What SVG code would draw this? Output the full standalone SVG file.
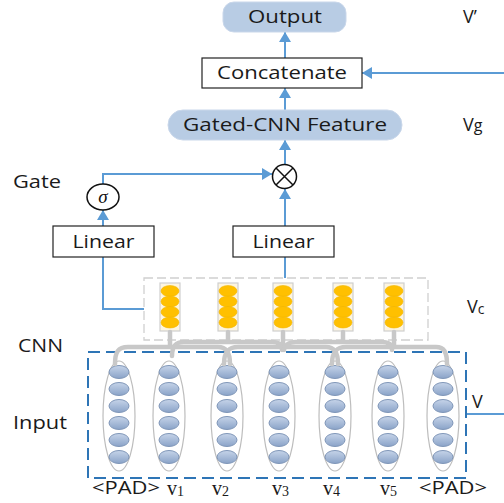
<svg xmlns="http://www.w3.org/2000/svg" width="504" height="503" viewBox="0 0 504 503">
<defs>
<style>
.lbl{font-family:"Open Sans","Liberation Sans",sans-serif;font-size:18px;fill:#1a1a1a}
.ser{font-family:"Liberation Serif","DejaVu Serif",serif;font-size:20px;fill:#1a1a1a}
.pill{fill:#b8cce4;stroke:#c9d7ea;stroke-width:1}
.box{fill:#ffffff;stroke:#222;stroke-width:1.2}
.arr{fill:none;stroke:#5b9bd5;stroke-width:2}
.cnn{fill:none;stroke:#c8c8c8;stroke-width:4.5;stroke-linecap:round;stroke-linejoin:round}
.col{fill:#fdf5e0;stroke:#cfcfcf;stroke-width:1.2}
.org{fill:#ffc000;stroke:#f2b600;stroke-width:0.6}
.word{fill:#ffffff;stroke:#bdbdbd;stroke-width:1.2}
.dot{fill:url(#bg);stroke:#7f96b8;stroke-width:1}
</style>
<linearGradient id="bg" x1="0" y1="0" x2="0" y2="1">
<stop offset="0" stop-color="#c6d4e9"/>
<stop offset="1" stop-color="#8aa3c8"/>
</linearGradient>
<marker id="ah" viewBox="0 0 10 12" refX="10" refY="6" markerWidth="10" markerHeight="12" markerUnits="userSpaceOnUse" orient="auto">
<path d="M0,0 L10,6 L0,12 z" fill="#5b9bd5"/>
</marker>
</defs>
<rect width="504" height="503" fill="#ffffff"/>

<g id="connectors">
<path class="arr" d="M285,58 V32" marker-end="url(#ah)"/>
<path class="arr" d="M504,73 H362" marker-end="url(#ah)"/>
<path class="arr" d="M285,110 V88" marker-end="url(#ah)"/>
<path class="arr" d="M285,164 V140" marker-end="url(#ah)"/>
<path class="arr" d="M285,226 V189" marker-end="url(#ah)"/>
<path class="arr" d="M103,184 V174 H272" marker-end="url(#ah)"/>
<path class="arr" d="M103,226 V210" marker-end="url(#ah)"/>
<path class="arr" d="M144,309 H103 V257"/>
<path class="arr" d="M285,278 V257"/>
<path class="arr" d="M466,414 H504"/>
</g>

<g id="output"><rect class="pill" x="223" y="2" width="123" height="30" rx="11"/><text class="lbl" x="285" y="23" text-anchor="middle" textLength="74" lengthAdjust="spacingAndGlyphs">Output</text></g>
<g id="concatenate"><rect class="box" x="202" y="58" width="160" height="30"/><text class="lbl" x="282" y="79" text-anchor="middle" textLength="130" lengthAdjust="spacingAndGlyphs">Concatenate</text></g>
<g id="gated"><rect class="pill" x="168" y="110" width="234" height="30" rx="15"/><text class="lbl" x="285" y="131" text-anchor="middle" textLength="204" lengthAdjust="spacingAndGlyphs">Gated-CNN Feature</text></g>
<g id="mult"><circle cx="284.5" cy="176.5" r="12" fill="#fff" stroke="#111" stroke-width="1.5"/><path d="M276,168 L293,185 M293,168 L276,185" stroke="#111" stroke-width="1.5"/></g>
<g id="sigma"><ellipse cx="103" cy="197" rx="16" ry="13" fill="#fff" stroke="#111" stroke-width="1.5"/><text x="103" y="203" text-anchor="middle" font-family="Liberation Serif,serif" font-style="italic" font-size="19" fill="#111">σ</text></g>
<g id="linear-left"><rect class="box" x="53" y="226" width="101" height="31"/><text class="lbl" x="103.5" y="248" text-anchor="middle" textLength="62" lengthAdjust="spacingAndGlyphs">Linear</text></g>
<g id="linear-right"><rect class="box" x="233" y="226" width="101" height="31"/><text class="lbl" x="283.5" y="248" text-anchor="middle" textLength="62" lengthAdjust="spacingAndGlyphs">Linear</text></g>

<g id="labels">
<text class="lbl" x="13" y="188" textLength="48" lengthAdjust="spacingAndGlyphs">Gate</text>
<text class="lbl" x="18" y="352" textLength="45" lengthAdjust="spacingAndGlyphs">CNN</text>
<text class="lbl" x="13" y="429" textLength="54" lengthAdjust="spacingAndGlyphs">Input</text>
<text class="lbl" x="463" y="23">V’</text>
<text class="lbl" x="463" y="131">V<tspan font-size="16">g</tspan></text>
<text class="lbl" x="467" y="313">V<tspan font-size="14" dy="1">c</tspan></text>
<text class="lbl" x="472" y="408">V</text>
</g>

<g id="cnn-box">
<rect x="144" y="278" width="284" height="62" fill="none" stroke="#d0d0d0" stroke-width="1.3" stroke-dasharray="9,4"/>
<g id="filter1"><rect class="col" x="160" y="283" width="20" height="48"/><ellipse class="org" cx="170" cy="291" rx="9" ry="5.5"/><ellipse class="org" cx="170" cy="301.5" rx="9" ry="5.5"/><ellipse class="org" cx="170" cy="312" rx="9" ry="5.5"/><ellipse class="org" cx="170" cy="322.5" rx="9" ry="5.5"/></g>
<g id="filter2"><rect class="col" x="218" y="283" width="20" height="48"/><ellipse class="org" cx="228" cy="291" rx="9" ry="5.5"/><ellipse class="org" cx="228" cy="301.5" rx="9" ry="5.5"/><ellipse class="org" cx="228" cy="312" rx="9" ry="5.5"/><ellipse class="org" cx="228" cy="322.5" rx="9" ry="5.5"/></g>
<g id="filter3"><rect class="col" x="273" y="283" width="20" height="48"/><ellipse class="org" cx="283" cy="291" rx="9" ry="5.5"/><ellipse class="org" cx="283" cy="301.5" rx="9" ry="5.5"/><ellipse class="org" cx="283" cy="312" rx="9" ry="5.5"/><ellipse class="org" cx="283" cy="322.5" rx="9" ry="5.5"/></g>
<g id="filter4"><rect class="col" x="333" y="283" width="20" height="48"/><ellipse class="org" cx="343" cy="291" rx="9" ry="5.5"/><ellipse class="org" cx="343" cy="301.5" rx="9" ry="5.5"/><ellipse class="org" cx="343" cy="312" rx="9" ry="5.5"/><ellipse class="org" cx="343" cy="322.5" rx="9" ry="5.5"/></g>
<g id="filter5"><rect class="col" x="384" y="283" width="20" height="48"/><ellipse class="org" cx="394" cy="291" rx="9" ry="5.5"/><ellipse class="org" cx="394" cy="301.5" rx="9" ry="5.5"/><ellipse class="org" cx="394" cy="312" rx="9" ry="5.5"/><ellipse class="org" cx="394" cy="322.5" rx="9" ry="5.5"/></g>
</g>

<g id="input-box">
<rect x="88" y="352" width="378" height="126" fill="none" stroke="#2e75b6" stroke-width="2" stroke-dasharray="12,6"/>
<g id="w0"><ellipse class="word" cx="119" cy="416" rx="16" ry="55"/><ellipse class="dot" cx="119" cy="372" rx="10" ry="6.5"/><ellipse class="dot" cx="119" cy="389" rx="10" ry="6.5"/><ellipse class="dot" cx="119" cy="406" rx="10" ry="6.5"/><ellipse class="dot" cx="119" cy="423" rx="10" ry="6.5"/><ellipse class="dot" cx="119" cy="440" rx="10" ry="6.5"/><ellipse class="dot" cx="119" cy="457" rx="10" ry="6.5"/></g>
<g id="w1"><ellipse class="word" cx="169" cy="416" rx="16" ry="55"/><ellipse class="dot" cx="169" cy="372" rx="10" ry="6.5"/><ellipse class="dot" cx="169" cy="389" rx="10" ry="6.5"/><ellipse class="dot" cx="169" cy="406" rx="10" ry="6.5"/><ellipse class="dot" cx="169" cy="423" rx="10" ry="6.5"/><ellipse class="dot" cx="169" cy="440" rx="10" ry="6.5"/><ellipse class="dot" cx="169" cy="457" rx="10" ry="6.5"/></g>
<g id="w2"><ellipse class="word" cx="227" cy="416" rx="16" ry="55"/><ellipse class="dot" cx="227" cy="372" rx="10" ry="6.5"/><ellipse class="dot" cx="227" cy="389" rx="10" ry="6.5"/><ellipse class="dot" cx="227" cy="406" rx="10" ry="6.5"/><ellipse class="dot" cx="227" cy="423" rx="10" ry="6.5"/><ellipse class="dot" cx="227" cy="440" rx="10" ry="6.5"/><ellipse class="dot" cx="227" cy="457" rx="10" ry="6.5"/></g>
<g id="w3"><ellipse class="word" cx="279" cy="416" rx="16" ry="55"/><ellipse class="dot" cx="279" cy="372" rx="10" ry="6.5"/><ellipse class="dot" cx="279" cy="389" rx="10" ry="6.5"/><ellipse class="dot" cx="279" cy="406" rx="10" ry="6.5"/><ellipse class="dot" cx="279" cy="423" rx="10" ry="6.5"/><ellipse class="dot" cx="279" cy="440" rx="10" ry="6.5"/><ellipse class="dot" cx="279" cy="457" rx="10" ry="6.5"/></g>
<g id="w4"><ellipse class="word" cx="335" cy="416" rx="16" ry="55"/><ellipse class="dot" cx="335" cy="372" rx="10" ry="6.5"/><ellipse class="dot" cx="335" cy="389" rx="10" ry="6.5"/><ellipse class="dot" cx="335" cy="406" rx="10" ry="6.5"/><ellipse class="dot" cx="335" cy="423" rx="10" ry="6.5"/><ellipse class="dot" cx="335" cy="440" rx="10" ry="6.5"/><ellipse class="dot" cx="335" cy="457" rx="10" ry="6.5"/></g>
<g id="w5"><ellipse class="word" cx="388" cy="416" rx="16" ry="55"/><ellipse class="dot" cx="388" cy="372" rx="10" ry="6.5"/><ellipse class="dot" cx="388" cy="389" rx="10" ry="6.5"/><ellipse class="dot" cx="388" cy="406" rx="10" ry="6.5"/><ellipse class="dot" cx="388" cy="423" rx="10" ry="6.5"/><ellipse class="dot" cx="388" cy="440" rx="10" ry="6.5"/><ellipse class="dot" cx="388" cy="457" rx="10" ry="6.5"/></g>
<g id="w6"><ellipse class="word" cx="443" cy="416" rx="16" ry="55"/><ellipse class="dot" cx="443" cy="372" rx="10" ry="6.5"/><ellipse class="dot" cx="443" cy="389" rx="10" ry="6.5"/><ellipse class="dot" cx="443" cy="406" rx="10" ry="6.5"/><ellipse class="dot" cx="443" cy="423" rx="10" ry="6.5"/><ellipse class="dot" cx="443" cy="440" rx="10" ry="6.5"/><ellipse class="dot" cx="443" cy="457" rx="10" ry="6.5"/></g>
</g>

<g id="cnn-connectors">
<path class="cnn" d="M170,332 V347 M115,364 C115,352 118,347 128,347 H218 C226,347 230,352 230,364"/>
<path class="cnn" d="M228,332 V342 M172,356 C172,346 176,342 184,342 H272 C280,342 282,346 282,350"/>
<path class="cnn" d="M283,332 V347 M224,364 C224,352 228,347 238,347 H326 C334,347 338,352 338,364"/>
<path class="cnn" d="M343,332 V342 M284,350 C284,346 288,342 296,342 H382 C390,342 392,346 392,350"/>
<path class="cnn" d="M394,332 V347 M332,364 C332,352 336,347 346,347 H436 C444,347 447,352 447,364"/>
</g>

<g id="word-labels">
<text class="lbl" x="126" y="494" text-anchor="middle" textLength="68" lengthAdjust="spacingAndGlyphs">&lt;PAD&gt;</text>
<text class="ser" x="167" y="495">v<tspan font-size="14" dy="1">1</tspan></text>
<text class="ser" x="212" y="495">v<tspan font-size="14" dy="1">2</tspan></text>
<text class="ser" x="272" y="495">v<tspan font-size="14" dy="1">3</tspan></text>
<text class="ser" x="323" y="495">v<tspan font-size="14" dy="1">4</tspan></text>
<text class="ser" x="380" y="495">v<tspan font-size="14" dy="1">5</tspan></text>
<text class="lbl" x="453" y="494" text-anchor="middle" textLength="68" lengthAdjust="spacingAndGlyphs">&lt;PAD&gt;</text>
</g>
</svg>
